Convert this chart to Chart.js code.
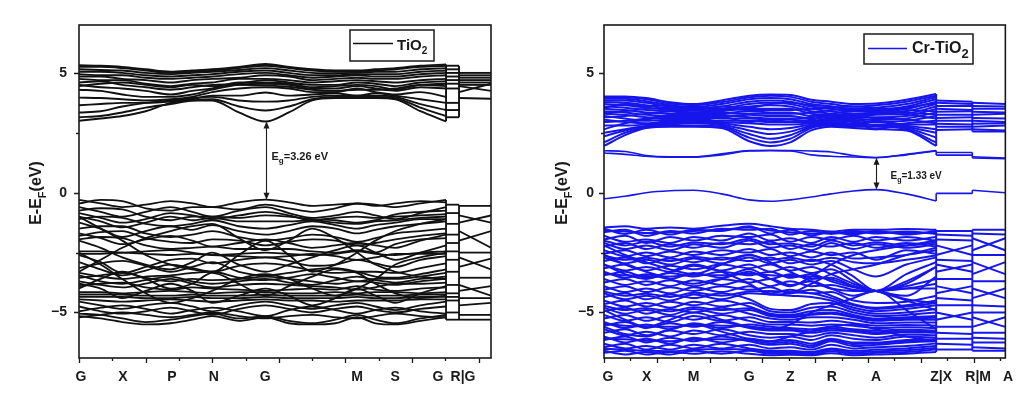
<!DOCTYPE html>
<html>
<head>
<meta charset="utf-8">
<title>Band structure: TiO2 vs Cr-TiO2</title>
<script src="https://cdn.jsdelivr.net/npm/chart.js@4.4.1/dist/chart.umd.min.js"></script>
<style>
  html, body { margin: 0; padding: 0; background: #fff; }
  body { width: 1024px; height: 397px; overflow: hidden; position: relative; }
  canvas { position: absolute; top: 0; }
  #tio2 { left: 0; }
  #crtio2 { left: 512px; }
</style>
</head>
<body>
<canvas id="tio2" width="512" height="397"></canvas>
<canvas id="crtio2" width="512" height="397"></canvas>
<script>
// ---------- shared axis values ----------
const yMajorTicks = [-5, 0, 5];
const yMinorTicks = [-2.5, 2.5];
const yMin = -6.9, yMax = 7;

// ---------- TiO2 ----------
const tio2K = [0, 0.65, 1.3, 2.0, 2.75, 3.4, 4.0, 4.8, 5.6, 6.3, 7.0, 7.7, 8.35, 8.9, 9.5, 10.25, 11.02];
const tio2Breaks = [11.02, 11.41, 12.37];
const tio2TickPos = [0.06, 1.32, 2.79, 4.05, 5.59, 8.35, 9.49, 10.78, 11.53];
const tio2TickNames = ['G', 'X', 'P', 'N', 'G', 'M', 'S', 'G', 'R|G'];
const tio2Vbm = -0.29;
const tio2Gap = 3.26;
const tio2GapK = 5.6;

const tio2Conduction = [
  [3.0, 3.1, 3.2, 3.4, 3.75, 3.85, 3.85, 3.35, 2.97, 3.35, 3.85, 3.95, 3.95, 3.95, 3.9, 3.4, 2.98],
  [3.15, 3.2, 3.35, 3.55, 3.7, 3.85, 3.9, 3.6, 3.43, 3.6, 3.9, 4.0, 4.0, 4.0, 3.95, 3.55, 3.2],
  [3.35, 3.4, 3.6, 3.75, 3.85, 3.95, 4.0, 3.85, 3.8, 3.85, 4.0, 4.05, 4.05, 4.05, 4.0, 3.7, 3.45],
  [3.65, 3.7, 3.75, 3.75, 3.8, 3.9, 4.05, 4.05, 4.18, 4.05, 4.1, 4.15, 4.05, 4.15, 4.05, 3.9, 3.75],
  [3.97, 3.95, 3.9, 3.85, 3.9, 4.0, 4.2, 4.35, 4.4, 4.35, 4.2, 4.2, 4.35, 4.2, 4.1, 4.2, 4.0],
  [4.3, 4.25, 4.1, 4.0, 4.0, 4.1, 4.3, 4.5, 4.55, 4.5, 4.35, 4.35, 4.45, 4.35, 4.25, 4.4, 4.35],
  [4.5, 4.4, 4.35, 4.25, 4.1, 4.25, 4.35, 4.6, 4.6, 4.55, 4.4, 4.45, 4.5, 4.45, 4.3, 4.5, 4.55],
  [4.6, 4.65, 4.5, 4.4, 4.3, 4.4, 4.5, 4.55, 4.7, 4.6, 4.5, 4.5, 4.6, 4.55, 4.45, 4.6, 4.65],
  [4.75, 4.7, 4.7, 4.55, 4.45, 4.55, 4.6, 4.75, 4.75, 4.7, 4.6, 4.65, 4.7, 4.65, 4.6, 4.7, 4.75],
  [4.85, 4.85, 4.75, 4.7, 4.6, 4.7, 4.75, 4.8, 4.9, 4.85, 4.7, 4.75, 4.8, 4.75, 4.75, 4.85, 4.9],
  [4.95, 4.9, 4.9, 4.8, 4.75, 4.8, 4.85, 4.95, 5.0, 4.9, 4.8, 4.85, 4.9, 4.85, 4.85, 4.95, 5.0],
  [5.05, 5.05, 5.0, 4.9, 4.85, 4.9, 4.95, 5.05, 5.1, 5.0, 4.9, 4.9, 4.95, 4.95, 4.95, 5.05, 5.1],
  [5.15, 5.12, 5.1, 5.0, 4.95, 5.0, 5.05, 5.12, 5.2, 5.1, 5.0, 4.98, 5.0, 5.05, 5.05, 5.15, 5.2],
  [5.25, 5.25, 5.2, 5.1, 5.0, 5.05, 5.1, 5.2, 5.3, 5.2, 5.1, 5.05, 5.05, 5.1, 5.15, 5.25, 5.3],
  [5.32, 5.3, 5.25, 5.15, 5.05, 5.1, 5.15, 5.25, 5.37, 5.25, 5.15, 5.1, 5.1, 5.15, 5.2, 5.3, 5.35],
  [4.45, 4.55, 4.6, 4.5, 4.4, 4.5, 4.45, 4.5, 4.48, 4.42, 4.3, 4.25, 4.3, 4.3, 4.35, 4.5, 4.45]
];

const tio2Valence = [
  [-0.3, -0.45, -0.6, -0.5, -0.35, -0.45, -0.6, -0.4, -0.29, -0.4, -0.55, -0.5, -0.45, -0.5, -0.6, -0.45, -0.3],
  [-0.45, -0.3, -0.35, -0.65, -0.75, -0.6, -0.6, -0.7, -0.5, -0.65, -0.8, -0.65, -0.45, -0.55, -0.45, -0.35, -0.4],
  [-0.6, -0.8, -1.0, -0.8, -0.6, -0.8, -1.0, -0.75, -0.6, -0.85, -1.05, -0.95, -0.8, -0.95, -1.1, -0.85, -0.6],
  [-0.75, -0.65, -0.7, -1.0, -1.15, -1.0, -1.0, -1.05, -0.95, -1.0, -1.1, -1.15, -1.25, -1.15, -0.9, -0.8, -0.75],
  [-0.85, -1.05, -1.25, -1.1, -0.85, -0.95, -1.1, -0.95, -0.8, -0.95, -1.15, -1.05, -1.0, -1.05, -1.0, -0.95, -0.9],
  [-1.0, -1.2, -1.45, -1.25, -1.0, -1.15, -1.05, -1.2, -1.2, -1.2, -1.15, -1.25, -1.3, -1.2, -1.15, -1.05, -1.0],
  [-1.1, -1.0, -1.05, -1.3, -1.4, -1.3, -1.15, -1.4, -1.5, -1.35, -1.2, -1.35, -1.5, -1.35, -1.25, -1.1, -1.1],
  [-1.25, -1.5, -1.85, -1.6, -1.4, -1.55, -1.35, -1.6, -1.75, -1.6, -1.4, -1.5, -1.7, -1.55, -1.4, -1.3, -1.2],
  [-1.5, -1.4, -1.4, -1.7, -1.85, -1.75, -1.6, -1.85, -2.0, -1.9, -1.75, -1.85, -2.05, -1.9, -1.7, -1.6, -1.5],
  [-1.8, -1.65, -1.6, -1.9, -2.05, -2.1, -1.95, -2.0, -2.2, -2.05, -1.95, -2.0, -2.2, -2.1, -1.95, -1.8, -1.7],
  [-1.7, -1.9, -2.15, -1.95, -1.8, -2.0, -2.25, -2.1, -1.95, -2.1, -2.3, -2.2, -2.1, -2.2, -2.3, -2.0, -1.75],
  [-1.95, -1.85, -1.9, -2.2, -2.35, -2.3, -2.25, -2.35, -2.35, -2.35, -2.45, -2.5, -2.4, -2.5, -2.15, -1.95, -1.9],
  [-2.45, -2.45, -2.5, -2.45, -2.4, -2.5, -2.6, -2.55, -2.5, -2.55, -2.6, -2.55, -2.45, -2.55, -2.6, -2.5, -2.45],
  [-2.55, -2.55, -2.5, -2.55, -2.6, -2.55, -2.6, -2.65, -2.7, -2.65, -2.55, -2.65, -2.8, -2.7, -2.55, -2.55, -2.55],
  [-2.6, -2.9, -3.35, -3.1, -2.8, -2.75, -2.95, -2.8, -2.7, -2.85, -3.05, -3.0, -2.8, -2.95, -3.1, -2.8, -2.65],
  [-2.9, -3.2, -3.45, -3.25, -3.0, -3.15, -3.3, -3.05, -2.95, -3.05, -3.25, -3.35, -3.3, -3.3, -3.35, -3.15, -2.95],
  [-3.15, -2.95, -2.85, -3.05, -3.3, -3.1, -2.9, -3.3, -3.45, -3.35, -3.2, -3.15, -3.3, -3.5, -3.55, -3.4, -3.2],
  [-3.35, -3.5, -3.6, -3.5, -3.45, -3.35, -3.3, -3.55, -3.65, -3.55, -3.4, -3.55, -3.7, -3.6, -3.6, -3.5, -3.35],
  [-3.45, -3.7, -3.8, -3.65, -3.5, -3.7, -3.8, -3.7, -3.6, -3.75, -3.85, -3.65, -3.5, -3.65, -3.75, -3.6, -3.5],
  [-3.55, -3.45, -3.35, -3.55, -3.7, -3.6, -3.65, -3.6, -3.5, -3.6, -3.7, -3.8, -3.7, -3.75, -3.85, -3.7, -3.6],
  [-3.7, -3.85, -3.95, -3.8, -3.6, -3.8, -3.95, -3.85, -3.8, -3.85, -3.9, -3.95, -4.05, -3.95, -3.8, -3.8, -3.75],
  [-3.9, -3.8, -3.75, -3.95, -4.05, -3.95, -4.0, -4.05, -4.1, -4.05, -4.0, -4.05, -3.9, -4.05, -4.1, -4.0, -3.95],
  [-4.15, -4.15, -4.2, -4.15, -4.1, -4.15, -4.2, -4.15, -4.15, -4.2, -4.2, -4.15, -4.2, -4.15, -4.15, -4.2, -4.15],
  [-4.25, -4.25, -4.25, -4.3, -4.3, -4.25, -4.3, -4.3, -4.25, -4.3, -4.3, -4.3, -4.25, -4.3, -4.3, -4.25, -4.25],
  [-4.35, -4.35, -4.35, -4.4, -4.4, -4.35, -4.4, -4.4, -4.35, -4.4, -4.4, -4.4, -4.35, -4.4, -4.4, -4.35, -4.35],
  [-4.45, -4.5, -4.55, -4.5, -4.45, -4.5, -4.55, -4.5, -4.45, -4.5, -4.5, -4.55, -4.5, -4.5, -4.5, -4.45, -4.45],
  [-4.55, -4.7, -4.85, -4.7, -4.6, -4.75, -4.95, -4.7, -4.55, -4.7, -4.85, -4.7, -4.6, -4.75, -4.9, -4.7, -4.55],
  [-4.75, -4.95, -5.05, -4.95, -4.8, -4.95, -5.1, -4.85, -4.7, -4.85, -5.0, -4.85, -4.75, -4.9, -5.0, -4.85, -4.75],
  [-4.95, -4.8, -4.7, -4.85, -5.05, -4.9, -4.8, -4.95, -5.15, -4.9, -4.75, -4.9, -5.05, -4.9, -4.8, -4.95, -5.05],
  [-5.05, -5.1, -5.25, -5.4, -5.3, -5.15, -5.05, -5.25, -5.15, -5.35, -5.45, -5.3, -5.1, -5.3, -5.45, -5.25, -5.1],
  [-5.15, -5.25, -5.4, -5.5, -5.45, -5.3, -5.15, -5.35, -5.2, -5.45, -5.5, -5.45, -5.2, -5.45, -5.5, -5.35, -5.2],
  [-5.2, -5.1, -5.0, -5.1, -5.2, -5.1, -5.0, -5.15, -5.25, -5.15, -5.1, -5.2, -5.25, -5.15, -5.05, -5.15, -5.2],
  [-1.0, -1.5, -2.0, -2.6, -3.0, -3.2, -3.3, -2.6, -2.0, -2.6, -3.3, -3.0, -2.5, -2.0, -1.6, -1.3, -1.1],
  [-3.3, -2.8, -2.3, -1.9, -1.6, -1.4, -1.3, -1.9, -2.4, -2.0, -1.5, -1.9, -2.5, -3.0, -3.3, -3.5, -3.6],
  [-4.0, -3.6, -3.3, -3.6, -4.0, -3.8, -3.35, -3.8, -4.3, -3.9, -3.5, -3.2, -3.35, -3.8, -4.2, -4.4, -4.3],
  [-2.5, -3.0, -3.6, -4.2, -4.6, -4.4, -4.1, -3.6, -3.4, -3.6, -4.0, -4.3, -4.0, -3.6, -3.0, -2.7, -2.5],
  [-2.0, -2.3, -2.7, -3.0, -3.2, -2.9, -2.5, -3.0, -3.3, -3.0, -2.7, -2.4, -2.2, -2.5, -2.8, -2.5, -2.2],
  [-3.8, -4.0, -4.4, -4.1, -3.8, -4.1, -4.6, -4.3, -4.0, -4.3, -4.7, -4.4, -4.0, -4.3, -4.6, -4.2, -3.9]
];

// [start, end] energies on the two short segments after the first break
const tio2CondTail1 = [[5.3, 5.3], [5.15, 5.15], [5.0, 5.0], [4.85, 4.85], [4.7, 4.7], [4.55, 4.55], [4.35, 4.35], [3.75, 3.75], [3.45, 3.45], [3.15, 3.15]];
const tio2CondTail2 = [[5.0, 5.0], [4.9, 4.9], [4.8, 4.8], [4.7, 4.7], [4.6, 4.6], [4.5, 4.5], [4.2, 4.55], [4.45, 4.25], [3.95, 3.92]];
const tio2ValTail1 = [[-0.5, -0.5], [-0.85, -0.85], [-1.3, -1.3], [-1.75, -1.75], [-2.1, -2.1], [-2.45, -2.45], [-2.8, -2.8], [-3.3, -3.3], [-3.85, -3.85], [-4.2, -4.2], [-4.35, -4.35], [-4.5, -4.5], [-5.0, -5.0], [-5.3, -5.3]];
const tio2ValTail2 = [[-0.55, -0.55], [-0.95, -1.25], [-1.25, -0.95], [-1.6, -2.3], [-2.0, -1.6], [-2.5, -2.5], [-2.7, -3.2], [-3.1, -2.75], [-3.55, -3.55], [-3.85, -4.3], [-4.1, -3.9], [-4.4, -4.4], [-4.7, -4.6], [-5.1, -5.1], [-5.3, -5.3]];

// ---------- Cr-TiO2 ----------
const crK = [0, 0.8, 1.6, 2.5, 3.4, 4.45, 5.5, 6.3, 7.05, 7.85, 8.6, 9.45, 10.3, 11.45, 12.58];
const crBreaks = [12.58, 13.95, 15.2];
const crTickPos = [0.15, 1.62, 3.39, 5.5, 7.05, 8.63, 10.3, 12.77, 14.17, 15.3];
const crTickNames = ['G', 'X', 'M', 'G', 'Z', 'R', 'A', 'Z|X', 'R|M', 'A'];
const crVbm = 0.13;
const crGap = 1.33;
const crGapK = 10.3;

const crMidLow = [[-0.25, -0.15, 0.0, 0.08, 0.1, -0.05, -0.3, -0.36, -0.3, -0.18, -0.05, 0.07, 0.13, -0.05, -0.35]];
const crMidLowTail1 = [[-0.03, -0.03]];
const crMidLowTail2 = [[0.1, 0.0]];
const crMidHigh = [
  [1.66, 1.6, 1.52, 1.48, 1.48, 1.58, 1.74, 1.75, 1.74, 1.58, 1.52, 1.49, 1.46, 1.58, 1.74],
  [1.75, 1.72, 1.55, 1.5, 1.5, 1.62, 1.76, 1.77, 1.76, 1.74, 1.7, 1.55, 1.47, 1.6, 1.76]
];
const crMidHighTail1 = [[1.57, 1.57], [1.68, 1.68]];
const crMidHighTail2 = [[1.45, 1.42], [1.5, 1.45]];

const crConduction = [
  [1.95, 2.4, 2.7, 2.75, 2.75, 2.7, 2.15, 1.95, 2.1, 2.6, 2.75, 2.7, 2.65, 2.6, 1.95],
  [2.1, 2.5, 2.72, 2.8, 2.8, 2.75, 2.3, 2.1, 2.25, 2.7, 2.8, 2.75, 2.75, 2.65, 2.1],
  [2.35, 2.6, 2.75, 2.85, 2.9, 2.8, 2.45, 2.25, 2.4, 2.75, 2.85, 2.8, 2.85, 2.7, 2.3],
  [2.5, 2.65, 2.8, 2.9, 2.95, 2.85, 2.6, 2.45, 2.55, 2.8, 2.9, 2.85, 2.95, 2.75, 2.5],
  [2.8, 2.8, 2.85, 2.95, 3.0, 2.9, 2.75, 2.65, 2.7, 2.85, 2.95, 2.9, 3.0, 2.8, 2.65],
  [3.05, 2.95, 2.9, 3.0, 3.05, 2.95, 2.9, 2.85, 2.85, 2.9, 3.0, 2.95, 2.65, 2.85, 2.85],
  [3.2, 3.1, 3.0, 3.05, 3.1, 3.0, 3.0, 2.95, 2.95, 2.95, 3.05, 3.0, 2.8, 2.9, 3.0],
  [3.3, 3.25, 3.15, 3.1, 3.15, 3.1, 3.1, 3.05, 3.05, 3.0, 3.1, 3.05, 2.95, 3.0, 3.2],
  [3.4, 3.35, 3.25, 3.2, 3.2, 3.2, 3.25, 3.2, 3.2, 3.1, 3.15, 3.1, 3.05, 3.1, 3.35],
  [3.5, 3.45, 3.35, 3.3, 3.25, 3.3, 3.4, 3.35, 3.35, 3.2, 3.2, 3.15, 3.15, 3.2, 3.5],
  [3.6, 3.55, 3.45, 3.4, 3.3, 3.4, 3.5, 3.5, 3.5, 3.3, 3.25, 3.2, 3.25, 3.3, 3.6],
  [3.7, 3.65, 3.55, 3.45, 3.35, 3.45, 3.6, 3.65, 3.6, 3.4, 3.3, 3.25, 3.3, 3.4, 3.7],
  [3.78, 3.75, 3.65, 3.5, 3.42, 3.5, 3.7, 3.75, 3.7, 3.5, 3.4, 3.3, 3.35, 3.5, 3.8],
  [3.85, 3.85, 3.75, 3.58, 3.5, 3.6, 3.8, 3.85, 3.8, 3.6, 3.5, 3.4, 3.45, 3.6, 3.9],
  [3.92, 3.92, 3.82, 3.65, 3.58, 3.7, 3.9, 3.95, 3.9, 3.7, 3.6, 3.5, 3.55, 3.7, 3.98],
  [3.98, 3.98, 3.9, 3.72, 3.65, 3.78, 3.98, 4.05, 4.0, 3.8, 3.7, 3.6, 3.65, 3.8, 4.05],
  [4.02, 4.02, 3.95, 3.78, 3.7, 3.85, 4.05, 4.1, 4.08, 3.88, 3.8, 3.7, 3.72, 3.88, 4.12],
  [2.95, 3.0, 3.1, 3.25, 3.35, 3.25, 3.15, 3.1, 3.1, 3.15, 3.3, 3.4, 3.35, 3.25, 3.1],
  [3.15, 3.2, 3.3, 3.4, 3.45, 3.35, 3.3, 3.3, 3.3, 3.35, 3.45, 3.5, 3.45, 3.35, 3.25],
  [3.35, 3.4, 3.5, 3.55, 3.55, 3.5, 3.45, 3.45, 3.45, 3.5, 3.55, 3.6, 3.55, 3.45, 3.4],
  [2.65, 2.9, 3.05, 3.15, 3.05, 3.15, 2.95, 3.05, 2.95, 3.05, 3.2, 3.25, 3.1, 3.05, 2.9],
  [3.55, 3.7, 3.6, 3.65, 3.45, 3.6, 3.55, 3.7, 3.75, 3.65, 3.6, 3.45, 3.4, 3.55, 3.75]
];

const crValence = [
  [-1.45, -1.4, -1.5, -1.45, -1.5, -1.38, -1.3, -1.4, -1.5, -1.55, -1.62, -1.55, -1.55, -1.52, -1.55],
  [-1.5, -1.72, -1.55, -1.75, -1.55, -1.6, -1.4, -1.7, -1.55, -1.78, -1.65, -1.75, -1.6, -1.75, -1.6],
  [-1.58, -1.62, -1.68, -1.65, -1.6, -1.55, -1.45, -1.58, -1.65, -1.7, -1.68, -1.68, -1.65, -1.68, -1.66],
  [-1.65, -1.55, -1.8, -1.6, -1.7, -1.5, -1.55, -1.5, -1.75, -1.6, -1.72, -1.6, -1.7, -1.62, -1.72],
  [-1.8, -2.05, -1.95, -2.1, -1.85, -2.0, -1.7, -2.0, -1.9, -2.1, -1.85, -2.05, -1.85, -2.0, -1.85],
  [-1.95, -1.8, -2.1, -1.85, -2.0, -1.8, -1.85, -1.75, -2.05, -1.85, -1.95, -1.8, -2.0, -1.85, -2.0],
  [-2.0, -2.2, -2.05, -2.25, -2.08, -2.15, -1.92, -2.15, -2.12, -2.25, -2.0, -2.2, -2.08, -2.2, -2.08],
  [-2.1, -2.35, -2.2, -2.4, -2.15, -2.3, -2.0, -2.3, -2.2, -2.4, -2.1, -2.35, -2.15, -2.3, -2.15],
  [-2.25, -2.1, -2.35, -2.15, -2.3, -2.1, -2.15, -2.05, -2.35, -2.15, -2.25, -2.1, -2.3, -2.1, -2.25],
  [-2.4, -2.65, -2.5, -2.7, -2.45, -2.6, -2.35, -2.6, -2.5, -2.7, -2.5, -2.75, -2.7, -2.6, -2.4],
  [-2.55, -2.4, -2.65, -2.45, -2.6, -2.4, -2.5, -2.35, -2.65, -2.45, -2.6, -2.5, -2.8, -2.4, -2.55],
  [-2.62, -2.8, -2.72, -2.85, -2.68, -2.8, -2.6, -2.8, -2.72, -2.85, -2.72, -2.9, -2.95, -2.8, -2.62],
  [-2.7, -2.95, -2.8, -3.0, -2.75, -2.95, -2.7, -2.95, -2.8, -3.0, -2.85, -3.2, -3.5, -3.0, -2.7],
  [-2.85, -2.7, -2.95, -2.75, -2.9, -2.7, -2.85, -2.7, -2.95, -2.8, -3.0, -3.5, -4.1, -3.4, -2.9],
  [-3.0, -3.25, -3.1, -3.3, -3.05, -3.25, -3.0, -3.3, -3.1, -3.35, -3.2, -3.7, -4.1, -3.8, -3.1],
  [-3.15, -3.0, -3.25, -3.05, -3.2, -3.0, -3.15, -3.0, -3.25, -3.1, -3.4, -3.8, -4.1, -4.3, -3.5],
  [-3.3, -3.55, -3.4, -3.6, -3.35, -3.55, -3.3, -3.6, -3.4, -3.6, -3.55, -3.9, -4.1, -4.5, -4.9],
  [-3.38, -3.45, -3.48, -3.5, -3.42, -3.45, -3.38, -3.45, -3.48, -3.5, -3.62, -3.9, -4.1, -3.9, -3.6],
  [-3.45, -3.3, -3.55, -3.35, -3.5, -3.3, -3.45, -3.3, -3.55, -3.4, -3.7, -3.95, -4.1, -3.7, -3.1],
  [-3.6, -3.85, -3.7, -3.9, -3.65, -3.85, -3.6, -3.9, -3.7, -3.9, -3.85, -4.05, -4.1, -4.0, -3.8],
  [-3.75, -3.6, -3.85, -3.65, -3.8, -3.6, -3.75, -3.6, -3.85, -3.7, -4.0, -4.3, -4.1, -4.45, -4.6],
  [-3.9, -4.15, -4.0, -4.2, -3.95, -4.15, -3.9, -4.2, -4.05, -4.2, -4.15, -4.5, -4.6, -4.55, -4.3],
  [-4.05, -3.9, -4.15, -3.95, -4.1, -3.9, -4.05, -3.95, -4.2, -4.05, -4.3, -4.65, -4.8, -4.7, -4.5],
  [-4.12, -4.3, -4.22, -4.35, -4.18, -4.3, -4.12, -4.1, -4.15, -4.2, -4.4, -4.7, -4.85, -4.75, -4.6],
  [-4.2, -4.45, -4.3, -4.5, -4.25, -4.45, -4.2, -4.25, -4.3, -4.35, -4.5, -4.8, -4.95, -4.85, -4.7],
  [-4.35, -4.2, -4.45, -4.25, -4.4, -4.2, -4.45, -4.85, -4.9, -4.65, -4.6, -4.9, -5.05, -5.0, -4.85],
  [-4.5, -4.75, -4.6, -4.8, -4.55, -4.75, -4.6, -4.95, -5.0, -4.8, -4.75, -5.0, -5.15, -5.1, -5.0],
  [-4.65, -4.5, -4.75, -4.55, -4.7, -4.5, -4.75, -5.05, -5.1, -4.95, -4.9, -5.1, -5.25, -5.2, -5.15],
  [-4.72, -4.9, -4.82, -4.95, -4.78, -4.9, -4.82, -5.1, -5.15, -5.05, -5.0, -5.15, -5.3, -5.25, -5.22],
  [-4.8, -5.05, -4.9, -5.1, -4.85, -5.05, -4.9, -5.15, -5.2, -5.1, -5.05, -5.2, -5.35, -5.3, -5.3],
  [-4.95, -4.8, -5.05, -4.85, -5.0, -4.8, -5.05, -5.25, -5.3, -5.2, -5.2, -5.3, -5.45, -5.42, -5.42],
  [-5.1, -5.35, -5.2, -5.4, -5.15, -5.35, -5.2, -5.4, -5.4, -5.42, -5.35, -5.45, -5.55, -5.52, -5.55],
  [-5.25, -5.1, -5.35, -5.15, -5.3, -5.1, -5.35, -5.5, -5.5, -5.55, -5.5, -5.55, -5.65, -5.62, -5.65],
  [-5.4, -5.65, -5.5, -5.7, -5.45, -5.65, -5.5, -5.6, -5.65, -5.7, -5.6, -5.7, -5.75, -5.72, -5.75],
  [-5.48, -5.55, -5.58, -5.6, -5.52, -5.55, -5.58, -5.68, -5.7, -5.78, -5.68, -5.75, -5.82, -5.78, -5.8],
  [-5.55, -5.4, -5.65, -5.45, -5.6, -5.4, -5.65, -5.75, -5.75, -5.85, -5.75, -5.8, -5.9, -5.82, -5.85],
  [-5.7, -5.95, -5.8, -6.0, -5.75, -5.95, -5.8, -5.9, -5.9, -6.0, -5.85, -5.95, -6.05, -5.92, -5.95],
  [-5.85, -5.7, -5.95, -5.75, -5.9, -5.7, -5.95, -6.05, -6.0, -6.15, -5.95, -6.1, -6.15, -6.0, -6.05],
  [-6.0, -6.25, -6.1, -6.3, -6.05, -6.25, -6.1, -6.2, -6.15, -6.3, -6.1, -6.25, -6.25, -6.15, -6.12],
  [-6.08, -6.12, -6.18, -6.2, -6.12, -6.12, -6.15, -6.28, -6.22, -6.38, -6.15, -6.32, -6.3, -6.2, -6.16],
  [-6.15, -6.0, -6.25, -6.05, -6.2, -6.0, -6.2, -6.35, -6.3, -6.45, -6.2, -6.4, -6.35, -6.25, -6.2],
  [-6.3, -6.5, -6.4, -6.55, -6.35, -6.5, -6.35, -6.5, -6.45, -6.55, -6.35, -6.5, -6.45, -6.4, -6.3],
  [-6.45, -6.3, -6.55, -6.35, -6.5, -6.3, -6.5, -6.6, -6.6, -6.65, -6.5, -6.6, -6.55, -6.5, -6.4],
  [-6.52, -6.55, -6.6, -6.62, -6.55, -6.52, -6.55, -6.65, -6.65, -6.7, -6.56, -6.66, -6.62, -6.58, -6.48],
  [-6.6, -6.75, -6.65, -6.75, -6.6, -6.72, -6.6, -6.72, -6.7, -6.75, -6.62, -6.72, -6.68, -6.65, -6.55],
  [-6.68, -6.6, -6.75, -6.65, -6.72, -6.62, -6.72, -6.78, -6.76, -6.78, -6.7, -6.78, -6.75, -6.72, -6.65],
  [-3.0, -3.4, -3.6, -3.3, -3.0, -3.3, -3.8, -4.25, -4.2, -3.8, -3.4, -3.2, -3.0, -2.6, -2.3],
  [-2.6, -3.0, -3.3, -3.6, -3.9, -3.6, -3.2, -3.6, -3.9, -3.5, -3.0, -2.6, -2.4, -2.2, -2.0],
  [-4.9, -5.3, -5.6, -5.3, -5.0, -5.3, -5.6, -5.7, -5.5, -5.0, -4.7, -4.4, -4.1, -4.9, -5.7],
  [-5.6, -5.9, -6.0, -5.7, -5.5, -5.8, -6.1, -6.2, -6.0, -5.8, -5.6, -5.5, -5.7, -6.0, -6.2],
  [-2.2, -2.6, -2.9, -3.2, -3.4, -3.0, -2.6, -2.9, -3.3, -3.7, -4.0, -4.1, -4.1, -4.0, -4.0]
];

const crCondTail1 = [[3.85, 3.8], [3.75, 3.7], [3.62, 3.62], [3.5, 3.45], [3.38, 3.4], [3.25, 3.25], [3.12, 3.15], [3.0, 3.0], [2.88, 2.85], [2.75, 2.75], [2.62, 2.65]];
const crCondTail2 = [[3.75, 3.7], [3.62, 3.6], [3.5, 3.5], [3.38, 3.35], [3.25, 3.3], [3.12, 3.1], [3.0, 2.95], [2.88, 2.9], [2.75, 2.8], [2.65, 2.6], [2.55, 2.55]];
const crValTail1 = [[-1.6, -1.6], [-1.75, -1.8], [-1.95, -2.0], [-2.2, -2.6], [-2.6, -2.2], [-2.8, -2.85], [-3.0, -3.3], [-3.3, -3.0], [-3.6, -3.6], [-3.9, -4.2], [-4.2, -3.9], [-4.4, -4.5], [-4.7, -4.7], [-5.0, -5.3], [-5.3, -5.0], [-5.6, -5.6], [-5.85, -5.9], [-6.1, -6.1], [-6.3, -6.35], [-6.55, -6.55]];
const crValTail2 = [[-1.55, -1.55], [-1.7, -1.75], [-1.9, -2.4], [-2.4, -1.9], [-2.6, -2.6], [-2.9, -3.4], [-3.4, -2.9], [-3.7, -3.7], [-4.0, -4.4], [-4.4, -4.0], [-4.7, -4.75], [-5.0, -5.0], [-5.2, -5.6], [-5.6, -5.2], [-5.85, -5.85], [-6.05, -6.1], [-6.25, -6.25], [-6.45, -6.5], [-6.6, -6.6]];

// ---------- helpers ----------
Chart.defaults.font.family = '"Liberation Sans", Arial, sans-serif';
Chart.defaults.color = '#1a1a1a';

function lineSet(points, color, width, smooth) {
  return {
    data: points,
    borderColor: color,
    borderWidth: width,
    pointRadius: 0,
    fill: false,
    tension: 0,
    cubicInterpolationMode: smooth ? 'monotone' : 'default'
  };
}

// one group = bands that share the broken path segments and the vertical jumps
function bandDatasets(k, breaks, groups, color) {
  const sets = [];
  groups.forEach(g => {
    const w = g.width;
    g.main.forEach(b => sets.push(lineSet(k.map((x, i) => ({ x, y: b[i] })), color, w, true)));
    g.tail1.forEach(p => sets.push(lineSet([{ x: breaks[0], y: p[0] }, { x: breaks[1], y: p[1] }], color, w)));
    g.tail2.forEach(p => sets.push(lineSet([{ x: breaks[1], y: p[0] }, { x: breaks[2], y: p[1] }], color, w)));
    const at0 = g.main.map(b => b[b.length - 1]).concat(g.tail1.map(p => p[0]));
    const at1 = g.tail1.map(p => p[1]).concat(g.tail2.map(p => p[0]));
    [[breaks[0], at0], [breaks[1], at1]].forEach(([x, ys]) => {
      sets.push(lineSet([{ x, y: Math.min(...ys) }, { x, y: Math.max(...ys) }], color, w));
    });
  });
  return sets;
}

// draws text runs: [text, size, baselineShift]
function runsWidth(ctx, runs) {
  let w = 0;
  runs.forEach(([t, size]) => { ctx.font = 'bold ' + size + 'px "Liberation Sans", Arial'; w += ctx.measureText(t).width; });
  return w;
}
function drawRuns(ctx, runs, x, y) {
  runs.forEach(([t, size, dy]) => {
    ctx.font = 'bold ' + size + 'px "Liberation Sans", Arial';
    ctx.fillText(t, x, y + dy);
    x += ctx.measureText(t).width;
  });
}

const panelDecor = {
  id: 'panelDecor',
  afterDatasetsDraw(chart, args, o) {
    const { ctx, chartArea: a, scales: { x, y } } = chart;
    ctx.save();
    ctx.strokeStyle = '#1a1a1a';
    ctx.fillStyle = '#1a1a1a';
    ctx.textBaseline = 'alphabetic';

    // frame
    ctx.lineWidth = 1.6;
    ctx.strokeRect(a.left, a.top, a.right - a.left, a.bottom - a.top);

    // tick marks
    ctx.lineWidth = 1.3;
    ctx.beginPath();
    for (let v = 0; v <= x.max; v++) {
      const px = Math.round(x.getPixelForValue(v)) + 0.5;
      ctx.moveTo(px, a.bottom);
      ctx.lineTo(px, a.bottom + (v % 2 === 0 ? 5 : 3));
    }
    yMajorTicks.concat(yMinorTicks).forEach(v => {
      const py = Math.round(y.getPixelForValue(v)) + 0.5;
      ctx.moveTo(a.left, py);
      ctx.lineTo(a.left - (yMajorTicks.includes(v) ? 5 : 3), py);
    });
    ctx.stroke();

    // legend box
    const L = o.legend;
    ctx.lineWidth = 1.5;
    ctx.strokeRect(L.box[0], L.box[1], L.box[2], L.box[3]);
    ctx.strokeStyle = o.color;
    ctx.lineWidth = 1.6;
    ctx.beginPath();
    ctx.moveTo(L.line[0], L.line[2]);
    ctx.lineTo(L.line[1], L.line[2]);
    ctx.stroke();
    drawRuns(ctx, L.runs, L.text[0], L.text[1]);

    // band gap arrow
    const G = o.gap;
    const gx = Math.round(x.getPixelForValue(G.k)) + 0.5;
    const yLow = y.getPixelForValue(G.vbm);
    const yHigh = y.getPixelForValue(G.vbm + G.value);
    ctx.strokeStyle = '#1a1a1a';
    ctx.lineWidth = 1.1;
    ctx.beginPath();
    ctx.moveTo(gx, yHigh + 4);
    ctx.lineTo(gx, yLow - 4);
    ctx.stroke();
    ctx.beginPath();
    ctx.moveTo(gx, yHigh); ctx.lineTo(gx - 3, yHigh + 7); ctx.lineTo(gx + 3, yHigh + 7); ctx.closePath();
    ctx.moveTo(gx, yLow); ctx.lineTo(gx - 3, yLow - 7); ctx.lineTo(gx + 3, yLow - 7); ctx.closePath();
    ctx.fill();
    const fs = G.fontSize;
    const gapRuns = [['E', fs, 0], ['g', Math.round(fs * 0.7), 3], ['=' + G.value.toFixed(2) + ' eV', fs, 0]];
    drawRuns(ctx, gapRuns, gx + G.dx, (yLow + yHigh) / 2 + G.dy + fs * 0.36);

    // y axis title, rotated
    const T = o.title;
    const titleRuns = [['E-E', 16, 0], ['F', 11, 5], ['(eV)', 16, 0]];
    ctx.translate(T[0], T[1]);
    ctx.rotate(-Math.PI / 2);
    drawRuns(ctx, titleRuns, -runsWidth(ctx, titleRuns) / 2, 6);
    ctx.restore();
  }
};
Chart.register(panelDecor);

function bandChart(id, cfg) {
  return new Chart(document.getElementById(id), {
    type: 'line',
    data: { datasets: cfg.datasets },
    options: {
      responsive: false,
      animation: false,
      devicePixelRatio: 1,
      parsing: false,
      events: [],
      layout: { padding: { left: 0, top: 25, right: cfg.padRight, bottom: 0 } },
      plugins: {
        legend: { display: false },
        tooltip: { enabled: false },
        panelDecor: cfg.decor
      },
      scales: {
        x: {
          type: 'linear',
          min: 0,
          max: cfg.xMax,
          grid: { display: false, drawTicks: false },
          border: { display: false },
          afterBuildTicks: s => { s.ticks = cfg.tickPos.map(v => ({ value: v })); },
          afterFit: s => { s.height = 39; },
          ticks: {
            autoSkip: false,
            maxRotation: 0,
            padding: 11,
            font: { size: 14, weight: 'bold' },
            callback: (v, i) => cfg.tickNames[i]
          }
        },
        y: {
          type: 'linear',
          min: yMin,
          max: yMax,
          grid: { display: false, drawTicks: false },
          border: { display: false },
          afterBuildTicks: s => { s.ticks = yMajorTicks.map(v => ({ value: v })); },
          afterFit: s => { s.width = cfg.yAxisWidth; },
          ticks: {
            padding: cfg.yPad,
            font: { size: 14, weight: 'bold' },
            callback: v => (v < 0 ? '\u2212' + Math.abs(v) : String(v))
          }
        }
      }
    }
  });
}

// ---------- left: TiO2 ----------
const tio2Color = '#111111';
bandChart('tio2', {
  datasets: bandDatasets(tio2K, tio2Breaks, [
    { main: tio2Conduction, tail1: tio2CondTail1, tail2: tio2CondTail2, width: 1.9 },
    { main: tio2Valence, tail1: tio2ValTail1, tail2: tio2ValTail2, width: 1.8 }
  ], tio2Color),
  xMax: 12.37,
  tickPos: tio2TickPos,
  tickNames: tio2TickNames,
  yAxisWidth: 79,
  yPad: 12,
  padRight: 21,
  decor: {
    color: tio2Color,
    legend: { box: [350, 30, 84, 31], line: [353, 393, 43.5], text: [397, 50], runs: [['TiO', 15, 0], ['2', 10, 4]] },
    gap: { k: tio2GapK, vbm: tio2Vbm, value: tio2Gap, dx: 5, dy: -5, fontSize: 11 },
    title: [35, 193]
  }
});

// ---------- right: Cr-TiO2 ----------
const crColor = 'rgb(22, 22, 235)';
bandChart('crtio2', {
  datasets: bandDatasets(crK, crBreaks, [
    { main: crMidLow, tail1: crMidLowTail1, tail2: crMidLowTail2, width: 1.6 },
    { main: crMidHigh, tail1: crMidHighTail1, tail2: crMidHighTail2, width: 1.6 },
    { main: crConduction, tail1: crCondTail1, tail2: crCondTail2, width: 2.0 },
    { main: crValence, tail1: crValTail1, tail2: crValTail2, width: 2.0 }
  ], crColor),
  xMax: 15.2,
  tickPos: crTickPos,
  tickNames: crTickNames,
  yAxisWidth: 92,
  yPad: 10,
  padRight: 8,
  decor: {
    color: crColor,
    legend: { box: [352, 34, 109, 30], line: [356, 395, 48.5], text: [400, 53], runs: [['Cr-TiO', 16, 0], ['2', 13, 5]] },
    gap: { k: crGapK, vbm: crVbm, value: crGap, dx: 14, dy: 2, fontSize: 10 },
    title: [49, 193]
  }
});
</script>
</body>
</html>
